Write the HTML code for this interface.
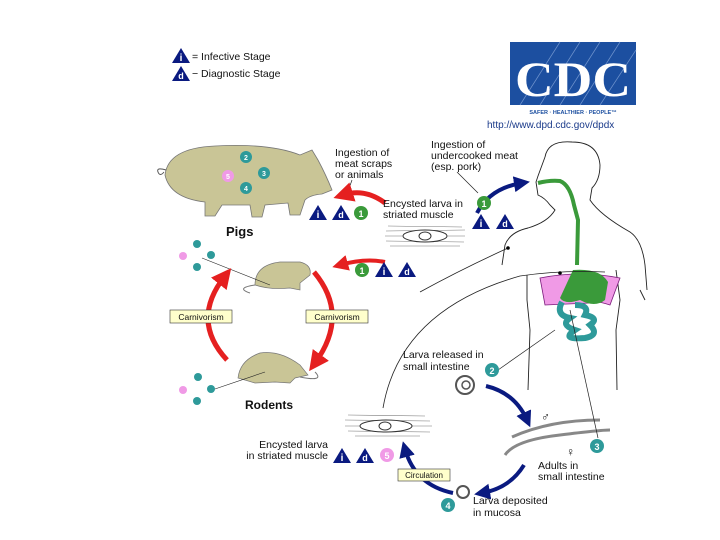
<!DOCTYPE html>
<html><head><meta charset="utf-8"><style>
body{margin:0;background:#fff}
svg{display:block}
text{font-family:"Liberation Sans",sans-serif;fill:#111}
</style></head><body>
<svg width="720" height="540" viewBox="0 0 720 540" xmlns="http://www.w3.org/2000/svg">
<defs>
<marker id="ar" viewBox="0 0 10 10" refX="5" refY="5" markerWidth="4" markerHeight="4" orient="auto"><path d="M0,0L10,5L0,10z" fill="#e52020"/></marker>
<marker id="ab" viewBox="0 0 10 10" refX="5" refY="5" markerWidth="4" markerHeight="4" orient="auto"><path d="M0,0L10,5L0,10z" fill="#0a1a80"/></marker>
<g id="ti"><path d="M-9,7L0,-8L9,7z" fill="#0a1a80"/><text x="0" y="5" font-size="10" font-weight="bold" text-anchor="middle" style="fill:#fff">i</text></g>
<g id="td"><path d="M-9,7L0,-8L9,7z" fill="#0a1a80"/><text x="0" y="5" font-size="9" font-weight="bold" text-anchor="middle" style="fill:#fff">d</text></g>
</defs>

<!-- legend -->
<use href="#ti" x="181" y="56"/><use href="#td" x="181" y="74"/>
<text x="192" y="60" font-size="10.5">= Infective Stage</text>
<text x="192" y="77" font-size="10.5">− Diagnostic Stage</text>

<!-- CDC logo -->
<rect x="510" y="42" width="126" height="63" fill="#1c4fa0"/>
<g stroke="#6f93cc" stroke-width="0.7">
<line x1="520" y1="105" x2="560" y2="42"/><line x1="540" y1="105" x2="580" y2="42"/><line x1="560" y1="105" x2="600" y2="42"/><line x1="580" y1="105" x2="620" y2="42"/><line x1="600" y1="105" x2="636" y2="50"/></g>
<text x="573" y="96" font-size="50" text-anchor="middle" font-weight="bold" style="fill:#fff;font-family:'Liberation Serif',serif" textLength="116" lengthAdjust="spacingAndGlyphs">CDC</text>
<text x="573" y="114" font-size="5.5" text-anchor="middle" style="fill:#1c4fa0" font-weight="bold">SAFER · HEALTHIER · PEOPLE™</text>
<text x="487" y="128" font-size="10" style="fill:#1a3a8a">http://www.dpd.cdc.gov/dpdx</text>

<!-- pig -->
<g fill="#c9c596" stroke="#777" stroke-width="0.8">
<path d="M165,175 Q168,148 215,146 Q270,143 300,155 L312,150 L318,160 Q326,175 332,190 L322,194 Q310,195 305,200 L300,215 L290,215 L288,203 L265,205 L262,217 L252,217 L250,205 L222,205 L215,216 L205,216 L205,202 Q170,198 165,175Z"/>
</g>
<path d="M166,170 q-10,-3 -8,2 q2,5 6,0" fill="none" stroke="#555"/>
<g font-size="7" font-weight="bold" text-anchor="middle">
<circle cx="246" cy="157" r="6" fill="#2e9a9a"/><text x="246" y="160" style="fill:#fff">2</text>
<circle cx="264" cy="173" r="6" fill="#2e9a9a"/><text x="264" y="176" style="fill:#fff">3</text>
<circle cx="246" cy="188" r="6" fill="#2e9a9a"/><text x="246" y="191" style="fill:#fff">4</text>
<circle cx="228" cy="176" r="6" fill="#f09ae6"/><text x="228" y="179" style="fill:#fff">5</text>
</g>
<text x="226" y="236" font-size="13" font-weight="bold">Pigs</text>

<text x="335" y="156" font-size="10.5">Ingestion of</text>
<text x="335" y="167" font-size="10.5">meat scraps</text>
<text x="335" y="178" font-size="10.5">or animals</text>
<line x1="352" y1="180" x2="346" y2="197" stroke="#222" stroke-width="0.7"/>
<path d="M385,203 Q365,188 343,195" fill="none" stroke="#e52020" stroke-width="5" marker-end="url(#ar)"/>
<use href="#ti" x="318" y="213"/><use href="#td" x="341" y="213"/>
<circle cx="361" cy="213" r="7" fill="#3a9a3a"/><text x="361" y="217" font-size="9" font-weight="bold" text-anchor="middle" style="fill:#fff">1</text>

<text x="383" y="207" font-size="10.5">Encysted larva in</text>
<text x="383" y="218" font-size="10.5">striated muscle</text>
<g stroke="#777" stroke-width="0.6">
<line x1="388" y1="226" x2="462" y2="227"/><line x1="386" y1="231" x2="465" y2="230"/><line x1="385" y1="236" x2="465" y2="236"/><line x1="386" y1="241" x2="464" y2="242"/><line x1="390" y1="246" x2="460" y2="246"/></g>
<ellipse cx="425" cy="236" rx="22" ry="6" fill="#fff" stroke="#333"/><ellipse cx="425" cy="236" rx="6" ry="4" fill="none" stroke="#333"/>

<text x="431" y="148" font-size="10.5">Ingestion of</text>
<text x="431" y="159" font-size="10.5">undercooked meat</text>
<text x="431" y="170" font-size="10.5">(esp. pork)</text>
<line x1="457" y1="172" x2="478" y2="193" stroke="#222" stroke-width="0.7"/>
<path d="M477,213 Q490,188 522,183" fill="none" stroke="#0a1a80" stroke-width="4" marker-end="url(#ab)"/>
<circle cx="484" cy="203" r="7" fill="#3a9a3a"/><text x="484" y="207" font-size="9" font-weight="bold" text-anchor="middle" style="fill:#fff">1</text>
<use href="#ti" x="481" y="222"/><use href="#td" x="505" y="222"/>

<!-- human -->
<g fill="none" stroke="#222" stroke-width="0.9">
<path d="M545,157 Q548,140 572,142 Q598,142 600,165 Q600,180 592,188 L590,200 Q600,215 630,232 Q642,240 645,265 L647,290"/>
<path d="M545,157 L538,176 L536,182 L538,195 Q545,198 550,205 L555,210 Q548,222 528,228 Q510,232 505,245 L502,265"/>
<path d="M527,275 L527,300 L530,330 L528,390"/>
<path d="M616,270 L620,300 L616,330 L617,390"/>
<path d="M640,290 L645,300"/>
</g>
<path d="M538,183 Q550,180 560,181 Q570,185 574,205 L578,220 L577,265" fill="none" stroke="#3a9a3a" stroke-width="4"/>
<path d="M540,278 Q580,270 620,278 L610,305 Q595,300 590,303 L545,305 Z" fill="#f09ae6" stroke="#7a1a7a" stroke-width="0.8"/>
<path d="M573,270 Q600,268 608,282 L605,300 Q595,308 580,300 Q565,305 560,298 Z" fill="#3a9a3a"/>
<path d="M562,302 Q555,315 570,318 Q560,325 575,330 Q560,340 585,338 Q600,335 590,325 Q600,318 585,315 Q590,305 575,305" fill="none" stroke="#2e9a9a" stroke-width="6"/>

<!-- long lines -->
<path d="M383,408 Q400,310 520,276 Q560,270 605,272" fill="none" stroke="#222" stroke-width="0.8"/>
<path d="M420,292 Q460,270 508,248" fill="none" stroke="#222" stroke-width="0.8"/>
<circle cx="508" cy="248" r="1.8" fill="#000"/><circle cx="560" cy="273" r="1.8" fill="#000"/>

<!-- rodents cycle -->
<g fill="#c9c596" stroke="#777" stroke-width="0.7">
<path d="M255,285 Q255,265 280,262 L300,262 Q312,265 310,275 L300,283 L300,290 L290,288 Q270,290 255,285 Z"/>
<path d="M238,378 Q240,360 260,353 Q280,350 300,365 L308,375 L295,378 L290,383 L275,382 L255,383 Z"/>
</g>
<path d="M255,285 q-20,3 -5,8" fill="none" stroke="#777"/>
<path d="M300,377 q25,5 15,-5" fill="none" stroke="#777"/>
<line x1="202" y1="258" x2="270" y2="285" stroke="#222" stroke-width="0.6"/>
<line x1="212" y1="390" x2="265" y2="372" stroke="#222" stroke-width="0.6"/>
<g font-size="5" text-anchor="middle">
<circle cx="197" cy="244" r="4" fill="#2e9a9a"/><circle cx="211" cy="255" r="4" fill="#2e9a9a"/><circle cx="197" cy="267" r="4" fill="#2e9a9a"/><circle cx="183" cy="256" r="4" fill="#f09ae6"/>
<circle cx="198" cy="377" r="4" fill="#2e9a9a"/><circle cx="211" cy="389" r="4" fill="#2e9a9a"/><circle cx="197" cy="401" r="4" fill="#2e9a9a"/><circle cx="183" cy="390" r="4" fill="#f09ae6"/>
</g>
<path d="M227,360 Q190,320 225,276" fill="none" stroke="#e52020" stroke-width="5" marker-end="url(#ar)"/>
<path d="M314,272 Q350,315 315,363" fill="none" stroke="#e52020" stroke-width="5" marker-end="url(#ar)"/>
<path d="M385,262 Q365,258 340,265" fill="none" stroke="#e52020" stroke-width="4" marker-end="url(#ar)"/>
<rect x="170" y="310" width="62" height="13" fill="#ffffcc" stroke="#333" stroke-width="0.6"/>
<text x="201" y="320" font-size="8.5" text-anchor="middle">Carnivorism</text>
<rect x="306" y="310" width="62" height="13" fill="#ffffcc" stroke="#333" stroke-width="0.6"/>
<text x="337" y="320" font-size="8.5" text-anchor="middle">Carnivorism</text>
<circle cx="362" cy="270" r="7" fill="#3a9a3a"/><text x="362" y="274" font-size="9" font-weight="bold" text-anchor="middle" style="fill:#fff">1</text>
<use href="#ti" x="384" y="270"/><use href="#td" x="407" y="270"/>
<text x="245" y="409" font-size="12" font-weight="bold">Rodents</text>

<!-- lower cycle -->
<text x="403" y="358" font-size="10.5">Larva released in</text>
<text x="403" y="370" font-size="10.5">small intestine</text>
<line x1="498" y1="370" x2="555" y2="330" stroke="#222" stroke-width="0.7"/>
<circle cx="492" cy="370" r="7" fill="#2e9a9a"/><text x="492" y="374" font-size="9" font-weight="bold" text-anchor="middle" style="fill:#fff">2</text>
<circle cx="465" cy="385" r="9" fill="none" stroke="#555" stroke-width="2"/><circle cx="466" cy="385" r="4" fill="none" stroke="#555" stroke-width="1.5"/>
<path d="M486,386 Q515,393 527,420" fill="none" stroke="#0a1a80" stroke-width="4" marker-end="url(#ab)"/>
<text x="541" y="421" font-size="12">♂</text>
<path d="M512,437 Q550,420 600,420" fill="none" stroke="#888" stroke-width="3"/>
<path d="M505,455 Q515,440 560,435 Q600,430 610,430" fill="none" stroke="#888" stroke-width="3"/>
<text x="566" y="456" font-size="12">♀</text>
<line x1="570" y1="310" x2="598" y2="438" stroke="#222" stroke-width="0.7"/>
<circle cx="597" cy="446" r="7" fill="#2e9a9a"/><text x="597" y="450" font-size="9" font-weight="bold" text-anchor="middle" style="fill:#fff">3</text>
<text x="538" y="469" font-size="10.5">Adults in</text>
<text x="538" y="480" font-size="10.5">small intestine</text>
<path d="M524,465 Q510,488 482,493" fill="none" stroke="#0a1a80" stroke-width="4" marker-end="url(#ab)"/>
<circle cx="463" cy="492" r="6" fill="none" stroke="#555" stroke-width="2"/>
<circle cx="448" cy="505" r="7" fill="#2e9a9a"/><text x="448" y="509" font-size="9" font-weight="bold" text-anchor="middle" style="fill:#fff">4</text>
<text x="473" y="504" font-size="10.5">Larva deposited</text>
<text x="473" y="516" font-size="10.5">in mucosa</text>
<path d="M453,493 Q415,485 405,449" fill="none" stroke="#0a1a80" stroke-width="4" marker-end="url(#ab)"/>
<rect x="398" y="469" width="52" height="12" fill="#ffffcc" stroke="#333" stroke-width="0.6"/>
<text x="424" y="478" font-size="8" text-anchor="middle">Circulation</text>
<g stroke="#777" stroke-width="0.6">
<line x1="348" y1="415" x2="425" y2="416"/><line x1="345" y1="420" x2="430" y2="421"/><line x1="345" y1="426" x2="432" y2="426"/><line x1="348" y1="431" x2="430" y2="432"/><line x1="355" y1="436" x2="420" y2="436"/></g>
<ellipse cx="386" cy="426" rx="26" ry="6" fill="#fff" stroke="#333"/><ellipse cx="385" cy="426" rx="6" ry="4" fill="none" stroke="#333"/>
<text x="328" y="448" font-size="10.5" text-anchor="end">Encysted larva</text>
<text x="328" y="459" font-size="10.5" text-anchor="end">in striated muscle</text>
<use href="#ti" x="342" y="456"/><use href="#td" x="365" y="456"/>
<circle cx="387" cy="455" r="7" fill="#f09ae6"/><text x="387" y="459" font-size="9" font-weight="bold" text-anchor="middle" style="fill:#fff">5</text>
</svg>
</body></html>
